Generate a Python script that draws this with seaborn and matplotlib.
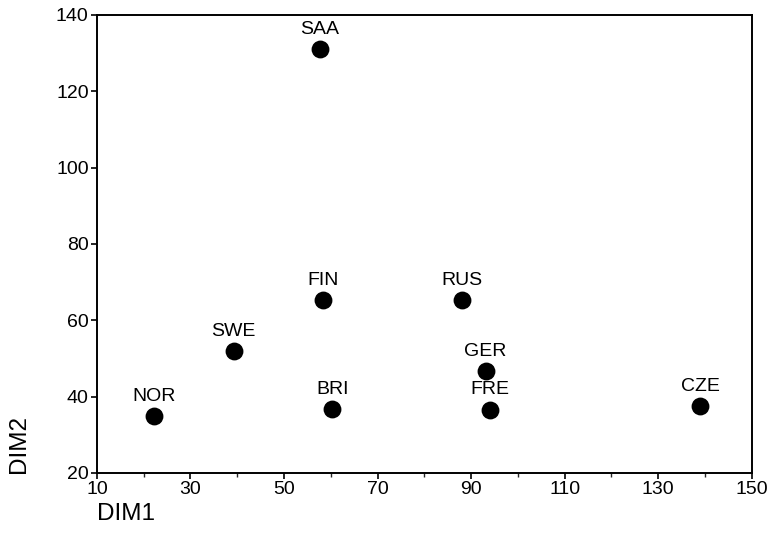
import matplotlib
matplotlib.use("Agg")
import matplotlib.pyplot as plt
import seaborn as sns
import pandas as pd
from matplotlib.ticker import MultipleLocator

# country codes and their two dimension scores
countries = ["SAA", "FIN", "RUS", "SWE", "NOR", "BRI", "GER", "FRE", "CZE"]
dim1 = [57.6, 58.3, 88.0, 39.2, 22.2, 60.3, 93.1, 94.0, 139.0]
dim2 = [131.0, 65.2, 65.2, 52.0, 34.8, 36.8, 46.8, 36.6, 37.6]

df = pd.DataFrame({"country": countries, "DIM1": dim1, "DIM2": dim2})

sns.set_style("ticks")
plt.rcParams["font.family"] = ["Liberation Sans", "DejaVu Sans"]

fig = plt.figure(figsize=(7.72, 5.35), dpi=100)
ax = fig.add_axes([0.1256, 0.116, 0.848, 0.856])

sns.scatterplot(data=df, x="DIM1", y="DIM2", color="black", s=165,
                edgecolor="black", linewidth=0, ax=ax, zorder=3)

for _, r in df.iterrows():
    ax.annotate(r["country"], (r["DIM1"], r["DIM2"]), textcoords="offset points",
                xytext=(0, 8), ha="center", va="bottom", fontsize=14, color="black")

ax.set_xlim(10, 150)
ax.set_ylim(20, 140)
ax.set_xticks(range(10, 151, 20))
ax.set_yticks(range(20, 141, 20))
ax.xaxis.set_minor_locator(MultipleLocator(10))
ax.tick_params(axis="both", which="major", labelsize=14, length=4, width=1.2,
               color="black", labelcolor="black", direction="out", pad=2)
ax.tick_params(axis="x", which="minor", length=3, width=1)

for sp in ax.spines.values():
    sp.set_visible(True)
    sp.set_color("black")
    sp.set_linewidth(1.4)

ax.set_xlabel("DIM1", fontsize=17.5, ha="left", color="black")
ax.set_ylabel("DIM2", fontsize=17.5, ha="left", color="black")
ax.xaxis.set_label_coords(0.0, -0.065)
ax.yaxis.set_label_coords(-0.103, 0.0)

fig.savefig("out.png", dpi=100, facecolor="white")
